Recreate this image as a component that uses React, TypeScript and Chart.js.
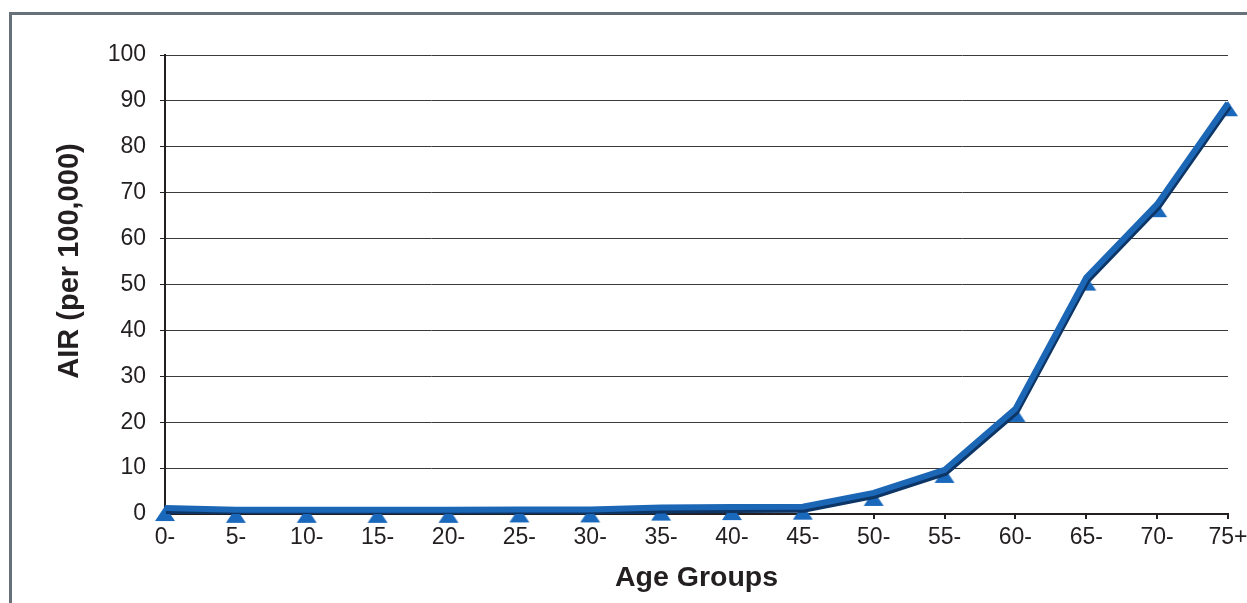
import React, { useEffect, useRef } from "react";
import { Chart, registerables } from "chart.js";

Chart.register(...registerables);

const ageGroups = ["0-", "5-", "10-", "15-", "20-", "25-", "30-", "35-", "40-", "45-", "50-", "55-", "60-", "65-", "70-", "75+"];
const airValues = [1.3, 0.9, 0.9, 0.9, 0.9, 1.0, 1.0, 1.4, 1.5, 1.6, 4.6, 9.6, 22.9, 51.5, 67.5, 89.5];
const yMin = 0;
const yMax = 100;
const yStep = 10;
const yTitle = "AIR (per 100,000)";
const xTitle = "Age Groups";

const FONT = "'Liberation Sans', Arial, Helvetica, sans-serif";
const TEXT = "#231f20";
const BLUE = "#1c66b6";
const SHADOW = "#0d3566";

function makeTriangle(): HTMLCanvasElement {
  const c = document.createElement("canvas");
  c.width = 22;
  c.height = 32;
  const ctx = c.getContext("2d")!;
  ctx.fillStyle = "#1a68bb";
  ctx.beginPath();
  ctx.moveTo(11, 14);
  ctx.lineTo(21, 29);
  ctx.lineTo(1, 29);
  ctx.closePath();
  ctx.fill();
  return c;
}

const shadowPlugin = {
  id: "lineShadow",
  beforeDatasetDraw(chart: any, args: any) {
    if (args.index !== 0) return;
    const ctx = chart.ctx;
    ctx.save();
    ctx.shadowColor = SHADOW;
    ctx.shadowOffsetX = 1;
    ctx.shadowOffsetY = 3;
    ctx.shadowBlur = 0;
  },
  afterDatasetDraw(chart: any, args: any) {
    if (args.index !== 0) return;
    chart.ctx.restore();
  },
};

const yTitlePlugin = {
  id: "yTitle",
  afterDraw(chart: any) {
    const ctx = chart.ctx;
    ctx.save();
    ctx.translate(70, 261);
    ctx.rotate(-Math.PI / 2);
    ctx.font = `bold 29px ${FONT}`;
    ctx.fillStyle = TEXT;
    ctx.textAlign = "center";
    ctx.textBaseline = "middle";
    ctx.fillText(yTitle, 0, 0);
    ctx.restore();
  },
};

export default function App() {
  const ref = useRef<HTMLCanvasElement | null>(null);

  useEffect(() => {
    if (!ref.current) return;
    const tri = makeTriangle();
    const chart = new Chart(ref.current, {
      type: "line",
      data: {
        labels: ageGroups,
        datasets: [
          {
            data: airValues,
            borderColor: BLUE,
            borderWidth: 6,
            pointRadius: 0,
            tension: 0,
            fill: false,
            borderJoinStyle: "miter",
          } as any,
          {
            data: airValues,
            showLine: false,
            pointStyle: tri as any,
            pointRadius: 10,
            clip: false,
          } as any,
        ],
      },
      options: {
        animation: false,
        responsive: false,
        devicePixelRatio: 1,
        layout: { padding: { left: 0, right: 19, top: 55, bottom: 0 } },
        plugins: {
          legend: { display: false },
          tooltip: { enabled: false },
        },
        scales: {
          x: {
            type: "category",
            offset: false,
            grid: { drawOnChartArea: false, drawTicks: true, tickLength: 5, tickColor: TEXT, lineWidth: 2 },
            border: { display: true, color: TEXT, width: 2 },
            ticks: { color: TEXT, font: { family: FONT, size: 23 }, padding: 5, maxRotation: 0, autoSkip: false },
            title: { display: true, text: xTitle, color: TEXT, font: { family: FONT, size: 28.5, weight: "bold" }, padding: { top: 0, bottom: 8 } },
            afterFit: (s: any) => { s.height = 89; s.paddingLeft = 0; s.paddingRight = 0; },
          },
          y: {
            min: yMin,
            max: yMax,
            grid: { color: "#3a3a3a", lineWidth: 1, drawTicks: true, tickLength: 5, tickColor: TEXT },
            border: { display: true, color: TEXT, width: 2 },
            ticks: { stepSize: yStep, color: TEXT, font: { family: FONT, size: 23 }, padding: 14 },
            afterFit: (s: any) => { s.width = 165; s.paddingTop = 0; s.paddingBottom = 0; },
          },
        },
      } as any,
      plugins: [shadowPlugin, yTitlePlugin],
    });
    return () => chart.destroy();
  }, []);

  return (
    <div style={{ position: "fixed", left: 0, top: 0, width: 1247, height: 603, overflow: "hidden", background: "#fff" }}>
      <div style={{ position: "absolute", left: 9, top: 12, width: 3000, height: 3000, border: "3px solid #68717a" }} />
      <canvas ref={ref} width={1247} height={603} style={{ position: "absolute", left: 0, top: 0 }} />
    </div>
  );
}
